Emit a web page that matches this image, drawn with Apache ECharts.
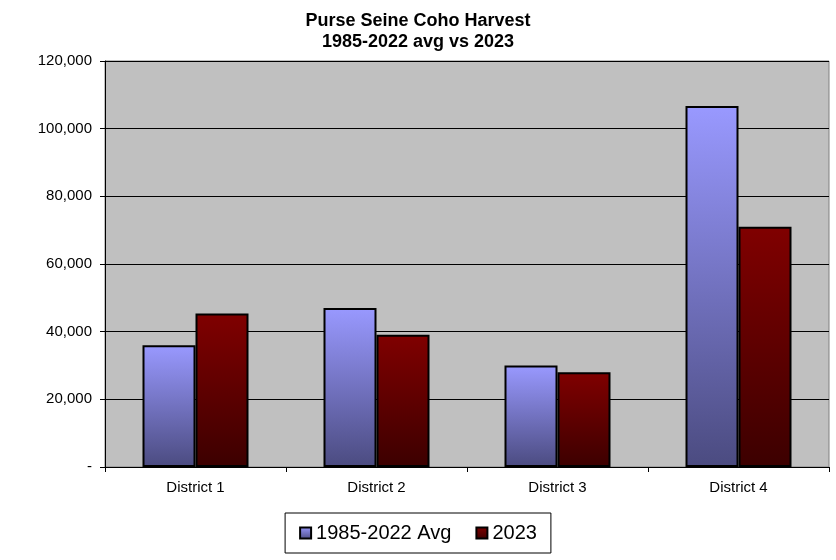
<!DOCTYPE html>
<html>
<head>
<meta charset="utf-8">
<script src="https://cdn.jsdelivr.net/npm/echarts@6/dist/echarts.min.js"></script>
<style>body{margin:0;background:#fff}#main{width:836px;height:560px}</style>
</head>
<body>
<div id="main"></div>
<script>
var categories = ['District 1', 'District 2', 'District 3', 'District 4'];
var avgValues = [36000, 47000, 30000, 106700];
var values2023 = [45400, 39100, 28000, 71000];
var seriesNames = ['1985-2022 Avg', '2023'];

var myChart = echarts.init(document.getElementById('main'));

function grad(top, bottom) {
    return new echarts.graphic.LinearGradient(0, 0, 0, 1, [
        { offset: 0, color: top },
        { offset: 1, color: bottom }
    ]);
}

var option = {
    animation: false,
    textStyle: { fontFamily: 'Liberation Sans, Arial, sans-serif' },
    title: {
        text: 'Purse Seine Coho Harvest\n1985-2022 avg vs 2023',
        left: 'center',
        top: 6,
        textStyle: { fontSize: 18, fontWeight: 'bold', color: '#000', lineHeight: 21 }
    },
    legend: {
        bottom: 7,
        left: 'center',
        data: seriesNames,
        icon: 'rect',
        itemWidth: 11,
        itemHeight: 11,
        itemGap: 24,
        padding: [10, 14],
        borderColor: '#000',
        borderWidth: 1,
        textStyle: { fontSize: 20, color: '#000' }
    },
    grid: { left: 105, right: 7, top: 61, bottom: 93, show: true, backgroundColor: '#c0c0c0', borderColor: '#808080', borderWidth: 1 },
    xAxis: {
        type: 'category',
        data: categories,
        axisLine: { lineStyle: { color: '#000' } },
        axisTick: { show: true, length: 5, lineStyle: { color: '#000' } },
        axisLabel: { fontSize: 15, color: '#000', margin: 13 }
    },
    yAxis: {
        type: 'value',
        min: 0,
        max: 120000,
        interval: 20000,
        axisLine: { show: true, lineStyle: { color: '#000' } },
        axisTick: { show: true, length: 5, lineStyle: { color: '#000' } },
        splitLine: { lineStyle: { color: '#000' } },
        axisLabel: {
            fontSize: 15, color: '#000', margin: 13,
            formatter: function (v) { return v === 0 ? '-' : v.toLocaleString('en-US'); }
        }
    },
    series: [
        {
            name: seriesNames[0],
            type: 'bar',
            data: avgValues,
            barWidth: 53,
            barGap: '0%',
            itemStyle: { color: grad('#9999ff', '#4b4b80'), borderColor: '#000', borderWidth: 2 }
        },
        {
            name: seriesNames[1],
            type: 'bar',
            data: values2023,
            barWidth: 53,
            itemStyle: { color: grad('#800000', '#3c0000'), borderColor: '#000', borderWidth: 2 }
        }
    ]
};

myChart.setOption(option);
</script>
</body>
</html>
